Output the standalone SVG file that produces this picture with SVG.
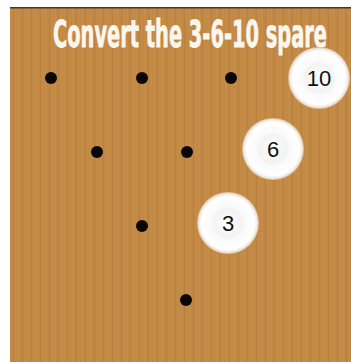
<svg xmlns="http://www.w3.org/2000/svg" width="351" height="362" viewBox="0 0 351 362">
<style>
.hole{fill:#0a0606}
.num{font-family:"Liberation Sans",Arial,sans-serif;font-size:22px;fill:#111;text-anchor:middle}
.title{font-family:"Liberation Sans Narrow","DejaVu Sans Condensed",sans-serif;font-weight:bold;font-size:37px;fill:#fbf6ee;stroke:#fbf6ee;stroke-width:0.8}
</style>
<defs>
<pattern id="grain" width="9" height="10" patternUnits="userSpaceOnUse">
<rect width="9" height="10" fill="#c18844"/>
<rect x="0" width="2" height="10" fill="#c68d49"/>
<rect x="4" width="1" height="10" fill="#ba8141"/>
<rect x="6" width="2" height="10" fill="#c58b48"/>
</pattern>
<radialGradient id="ball" cx="50%" cy="50%" r="50%">
<stop offset="0" stop-color="#ffffff"/>
<stop offset="0.45" stop-color="#f3f3f3"/>
<stop offset="0.55" stop-color="#fafafa"/>
<stop offset="0.86" stop-color="#ffffff"/>
<stop offset="0.95" stop-color="#ebe5db"/>
<stop offset="1" stop-color="#d6b48a"/>
</radialGradient>
</defs>
<rect width="351" height="362" fill="#ffffff"/>
<rect x="10" y="7" width="341" height="355" fill="url(#grain)"/>
<rect x="10" y="7" width="341" height="1.5" fill="#4a3520"/>
<text class="title" x="53" y="47" textLength="274" lengthAdjust="spacingAndGlyphs">Convert the 3-6-10 spare</text>
<g id="pin7"><circle class="hole" cx="51" cy="78" r="6"/></g>
<g id="pin8"><circle class="hole" cx="142" cy="78" r="6"/></g>
<g id="pin9"><circle class="hole" cx="231" cy="78" r="6"/></g>
<g id="pin10"><circle cx="319" cy="78" r="31" fill="url(#ball)"/><text class="num" x="319" y="86">10</text></g>
<g id="pin4"><circle class="hole" cx="97" cy="152" r="6"/></g>
<g id="pin5"><circle class="hole" cx="187" cy="152" r="6"/></g>
<g id="pin6"><circle cx="273" cy="149" r="31" fill="url(#ball)"/><text class="num" x="273" y="157">6</text></g>
<g id="pin2"><circle class="hole" cx="142" cy="226" r="6"/></g>
<g id="pin3"><circle cx="228" cy="223" r="31" fill="url(#ball)"/><text class="num" x="228" y="231">3</text></g>
<g id="pin1"><circle class="hole" cx="186" cy="300" r="6"/></g>
<g id="connectors"/>
</svg>
